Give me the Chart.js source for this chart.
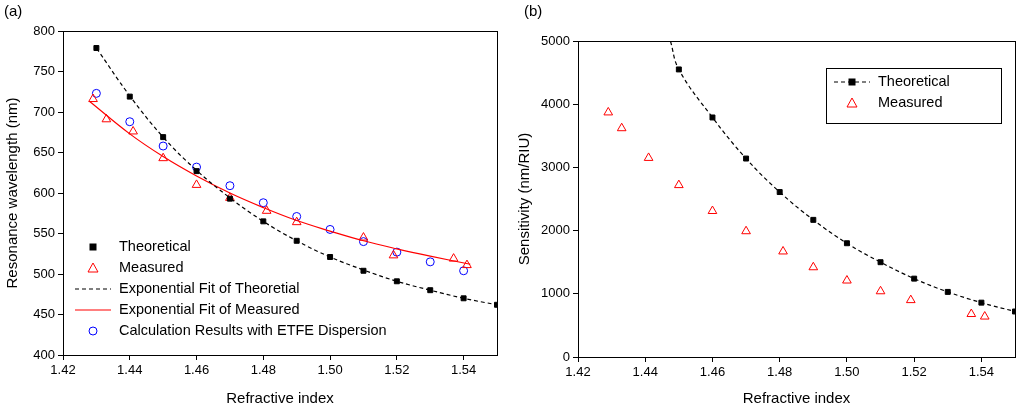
<!DOCTYPE html>
<html><head><meta charset="utf-8">
<script src="https://cdn.jsdelivr.net/npm/chart.js@4"></script>
<style>
body{margin:0;background:#fff;font-family:"Liberation Sans",Arial,sans-serif}
.w{position:absolute;top:0;width:512px;height:412px}
.lab{position:absolute;top:2px;font-size:15px}
</style></head><body>
<div class="w" style="left:0"><canvas id="a" width="512" height="412"></canvas></div>
<div class="w" style="left:512px"><canvas id="b" width="512" height="412"></canvas></div>
<div class="lab" style="left:4px">(a)</div>
<div class="lab" style="left:524px">(b)</div>
<script>
const aTheoX=[1.43,1.44,1.45,1.46,1.47,1.48,1.49,1.50,1.51,1.52,1.53,1.54,1.55];
const aTheoY=[779,719,669,627,593,565,541,521,504,491,480,470,462];
const aMeasX=[1.429,1.433,1.441,1.45,1.46,1.47,1.481,1.49,1.51,1.519,1.537,1.541];
const aMeasY=[716,691,676,643,610,594,578,564,545,523,519,511];
const aCalcX=[1.43,1.44,1.45,1.46,1.47,1.48,1.49,1.50,1.51,1.52,1.53,1.54];
const aCalcY=[723,688,658,632,609,588,571,555,540,527,515,504];
const aFitTX=[1.43,1.44,1.45,1.46,1.47,1.48,1.49,1.50,1.51,1.52,1.53,1.54,1.55];
const aFitTY=[779,720,669,628,594,565,541,521,505,491,480,470,462];
const aFitMX=[1.428,1.44,1.45,1.46,1.47,1.48,1.49,1.50,1.51,1.52,1.53,1.542];
const aFitMY=[713,673,645,621,600,582,566,553,541,531,522,512];
const bTheoX=[1.45,1.46,1.47,1.48,1.49,1.50,1.51,1.52,1.53,1.54,1.55];
const bTheoY=[4550,3790,3140,2610,2170,1800,1500,1240,1030,860,720];
const bFitX=[1.4475,1.45,1.46,1.47,1.48,1.49,1.50,1.51,1.52,1.53,1.54,1.55];
const bFitY=[5000,4550,3790,3140,2610,2170,1800,1500,1240,1030,860,720];
const bMeasX=[1.429,1.433,1.441,1.45,1.46,1.47,1.481,1.49,1.50,1.51,1.519,1.537,1.541];
const bMeasY=[3870,3620,3150,2720,2310,1990,1670,1420,1210,1040,900,680,640];
const xTicks=[1.42,1.44,1.46,1.48,1.50,1.52,1.54];

const pts=(xs,ys)=>xs.map((x,i)=>({x,y:ys[i]}));
const F="'Liberation Sans',Arial,sans-serif";
const frame={id:'frame',afterDraw(c){const a=c.chartArea,x=c.ctx;x.save();x.strokeStyle='#000';x.lineWidth=1;x.strokeRect(a.left+.5,a.top+.5,a.width,a.height);x.restore();}};
function legendPlugin(items,ox,oy,box){return{id:'lg',afterDraw(c){const a=c.chartArea,x=c.ctx;x.save();
 let X=a.left+ox,Y=a.top+oy;
 if(box){x.strokeStyle='#000';x.lineWidth=1;x.strokeRect(X-8+.5,Y-14+.5,box[0],box[1]);}
 x.font="14.5px "+F;x.textBaseline='middle';
 items.forEach((it,i)=>{const y=Y+i*21;
  if(it.line){x.strokeStyle=it.color;x.lineWidth=1.2;x.setLineDash(it.dash||[]);x.beginPath();x.moveTo(X,y);x.lineTo(X+36,y);x.stroke();x.setLineDash([]);}
  const cx=X+18;x.lineWidth=1;
  if(it.m==='rect'){x.fillStyle='#000';x.fillRect(cx-3.5,y-3.5,7,7);}
  if(it.m==='tri'){x.strokeStyle='red';x.beginPath();x.moveTo(cx,y-5);x.lineTo(cx+5,y+4);x.lineTo(cx-5,y+4);x.closePath();x.stroke();}
  if(it.m==='circ'){x.strokeStyle='blue';x.beginPath();x.arc(cx,y,4,0,7);x.stroke();}
  x.fillStyle='#000';x.fillText(it.t,X+44,y);});
 x.restore();}};}
const gridOpt={display:true,drawOnChartArea:false,drawTicks:true,tickLength:5,color:'#000'};
function xScale(){return{type:'linear',min:1.42,max:1.55,afterBuildTicks:s=>{s.ticks=xTicks.map(v=>({value:v}))},
 ticks:{color:'#000',font:{size:13,family:F},callback:v=>v.toFixed(2)},grid:gridOpt,border:{display:false},
 title:{display:true,text:'Refractive index',color:'#000',font:{size:15,family:F}}};}
const markerDs=(d,style,col,r)=>({type:'scatter',data:d,pointStyle:style,pointRadius:r,pointBackgroundColor:style==='rect'?'#000':'rgba(0,0,0,0)',pointBorderColor:col,pointBorderWidth:1,showLine:false});
const lineDs=(d,col,dash)=>({type:'line',data:d,borderColor:col,borderWidth:1.2,borderDash:dash,pointRadius:0,tension:0.4,fill:false});

new Chart(document.getElementById('a'),{type:'scatter',
 data:{datasets:[lineDs(pts(aFitTX,aFitTY),'#000',[4,3]),lineDs(pts(aFitMX,aFitMY),'red',[]),
  markerDs(pts(aTheoX,aTheoY),'rect','#000',3.5),markerDs(pts(aMeasX,aMeasY),'triangle','red',5),markerDs(pts(aCalcX,aCalcY),'circle','blue',4)]},
 options:{responsive:false,animation:false,layout:{padding:{top:31,right:15,left:0,bottom:0}},
  plugins:{legend:{display:false},tooltip:{enabled:false}},
  scales:{x:Object.assign(xScale(),{afterFit:s=>{s.height=57}}),
   y:{min:400,max:800,ticks:{stepSize:50,color:'#000',font:{size:13,family:F},callback:v=>v},grid:gridOpt,border:{display:false},
    title:{display:true,text:'Resonance wavelength (nm)',color:'#000',font:{size:15,family:F}},afterFit:s=>{s.width=63}}}},
 plugins:[frame,legendPlugin([{m:'rect',t:'Theoretical'},{m:'tri',t:'Measured'},{line:1,color:'#000',dash:[4,3],t:'Exponential Fit of Theoretial'},{line:1,color:'red',t:'Exponential Fit of Measured'},{m:'circ',t:'Calculation Results with ETFE Dispersion'}],12,216,null)]});

new Chart(document.getElementById('b'),{type:'scatter',
 data:{datasets:[lineDs(pts(bFitX,bFitY),'#000',[4,3]),markerDs(pts(bTheoX,bTheoY),'rect','#000',3.5),markerDs(pts(bMeasX,bMeasY),'triangle','red',5)]},
 options:{responsive:false,animation:false,layout:{padding:{top:41,right:9,left:0,bottom:0}},
  plugins:{legend:{display:false},tooltip:{enabled:false}},
  scales:{x:Object.assign(xScale(),{afterFit:s=>{s.height=55}}),
   y:{min:0,max:5000,ticks:{stepSize:1000,color:'#000',font:{size:13,family:F},callback:v=>String(v)},grid:gridOpt,border:{display:false},
    title:{display:true,text:'Sensitivity (nm/RIU)',color:'#000',font:{size:15,family:F}},afterFit:s=>{s.width=66}}}},
 plugins:[frame,legendPlugin([{line:1,color:'#000',dash:[4,3],m:'rect',t:'Theoretical'},{m:'tri',t:'Measured'}],256,41,[175,55])]});
</script></body></html>
